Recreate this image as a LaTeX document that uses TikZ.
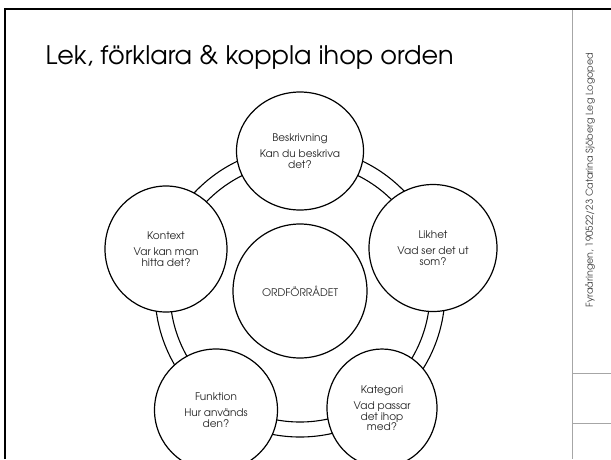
\documentclass[tikz,border=0pt]{standalone}
\usepackage{fontspec}
\setmainfont{TeX Gyre Adventor}
\usetikzlibrary{shapes.geometric}

\begin{document}
\begin{tikzpicture}[x=1pt, y=-1pt,
  every node/.style={font=\fontsize{10.5}{10.5}\selectfont, align=center, text=black!85},
  bubble/.style={ellipse, draw, line width=1.2pt, fill=white, inner sep=0pt}]
  \useasboundingbox (0,0) rectangle (611,459);

  % Slide frame and side panel
  \draw[line width=2pt] (5,459) -- (5,9) -- (611,9);
  \draw[black!35, line width=0.8pt] (572,10) -- (572,459);
  \draw[black!35, line width=0.8pt] (572,373) -- (611,373);
  \draw[black!35, line width=0.8pt] (572,423) -- (611,423);

  % Title
  \node[anchor=base west, font=\fontsize{25.5}{28}\selectfont, text=black] (title) at (42,64)
    {Lek, förklara \& koppla ihop orden};

  % Side text
  \node[rotate=90, font=\fontsize{9.6}{11}\selectfont, text=black!75] (side) at (590,180)
    {Fyraåringen, 190522/23 Catarina Sjöberg Leg Logoped};

  % Double ring behind the outer circles
  \draw[line width=1.1pt] (300,292) circle[radius=130];
  \draw[line width=1.1pt] (300,292) circle[radius=145];

  % Centre circle
  \node[bubble, minimum width=134pt, minimum height=134pt] (ordf) at (300,291) {ORDFÖRRÅDET};

  % Outer circles
  \node[bubble, minimum width=127pt, minimum height=118pt] (beskr) at (300,151)
    {Beskrivning\\[6pt]Kan du beskriva\\det?};
  \node[bubble, minimum width=128pt, minimum height=127pt] (likhet) at (433,248)
    {Likhet\\[6pt]Vad ser det ut\\som?};
  \node[bubble, minimum width=110pt, minimum height=118pt] (kateg) at (382,408)
    {Kategori\\[6pt]Vad passar\\det ihop\\med?};
  \node[bubble, minimum width=123pt, minimum height=122pt] (funkt) at (216,410)
    {Funktion\\[6pt]Hur används\\den?};
  \node[bubble, minimum width=122pt, minimum height=126pt] (kontext) at (166,249)
    {Kontext\\[6pt]Var kan man\\hitta det?};
\end{tikzpicture}
\end{document}
